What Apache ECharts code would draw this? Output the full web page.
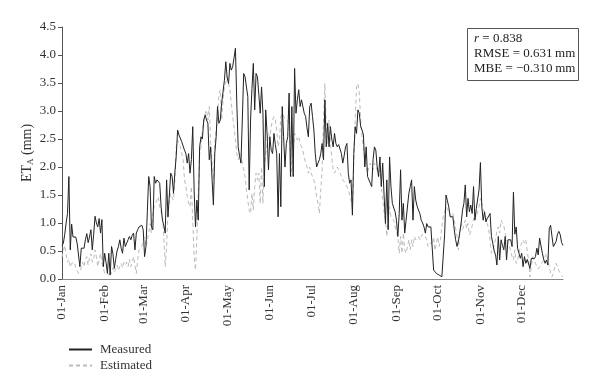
<!DOCTYPE html>
<html><head><meta charset="utf-8">
<script src="https://cdn.jsdelivr.net/npm/echarts@6/dist/echarts.min.js"></script>
<style>html,body{margin:0;padding:0;background:#fff}#c{width:600px;height:390px}</style>
</head><body><div id="c"></div>
<script>
const months = ["Jan","Feb","Mar","Apr","May","Jun","Jul","Aug","Sep","Oct","Nov","Dec"];
const monthDays = [31,28,31,30,31,30,31,31,30,31,30,31];
const measured = [
0.60,0.64,0.80,1.00,1.17,1.83,0.52,0.98,0.75,0.72,
0.75,0.64,0.62,0.22,0.55,0.56,0.55,0.70,0.81,0.65,
0.75,0.88,0.52,0.80,1.12,1.00,0.93,1.08,0.82,1.06,
0.22,0.46,0.30,0.10,0.46,0.07,0.58,0.45,0.19,0.35,
0.50,0.58,0.70,0.55,0.46,0.73,0.58,0.64,0.70,0.76,
0.70,0.78,0.82,0.52,0.82,0.88,0.93,0.90,0.96,0.88,
0.40,0.58,1.20,1.83,1.65,0.93,0.88,1.83,1.71,1.77,
1.77,1.71,1.29,1.05,0.95,0.82,1.77,1.11,1.50,1.89,
1.83,1.53,1.90,2.20,2.66,2.57,2.60,2.45,2.42,2.30,
2.24,2.07,2.24,1.89,2.13,2.72,1.59,0.93,1.41,1.05,
2.36,2.54,2.50,2.84,2.93,2.84,2.78,2.13,2.36,1.80,
1.32,2.24,2.54,3.08,2.78,2.84,3.14,3.14,3.55,3.88,
3.60,3.49,3.85,3.73,3.79,3.95,4.12,3.14,2.36,2.20,
2.07,2.84,3.67,3.61,3.43,3.26,1.59,2.84,3.40,3.85,
3.02,3.67,3.61,3.30,2.96,3.43,2.96,1.65,3.02,2.60,
1.95,2.54,2.30,2.24,2.60,2.40,2.24,1.11,2.24,1.29,
3.08,2.54,2.00,2.42,2.54,3.32,1.83,3.08,1.83,3.76,
2.96,3.20,3.38,3.08,3.20,3.23,2.96,2.90,2.70,2.54,
3.08,3.14,2.90,2.66,2.24,2.00,2.07,2.13,2.24,2.42,
2.13,3.20,2.36,2.78,2.36,2.72,2.50,2.36,2.60,2.42,
2.36,2.40,2.42,2.24,2.07,2.20,2.36,2.42,1.89,1.71,
1.77,1.14,2.24,2.72,2.60,3.02,2.96,2.72,2.66,2.57,
2.00,2.36,1.83,1.80,1.71,1.65,2.13,2.36,2.30,2.00,
1.83,2.18,1.65,2.07,1.50,0.99,1.77,0.88,2.18,1.65,
1.35,1.35,1.20,1.05,0.76,1.17,1.95,1.05,1.35,0.82,
1.05,1.05,1.53,1.65,1.77,1.05,1.65,1.41,1.30,1.23,
1.17,1.05,1.00,0.93,0.82,0.99,0.93,0.96,0.93,0.96,
0.16,0.13,0.10,0.08,0.07,0.05,0.04,0.04,0.80,1.50,
1.40,1.29,1.11,1.14,1.11,0.88,0.70,0.58,0.67,0.70,
1.00,1.23,1.35,1.68,1.11,1.44,1.20,1.32,1.17,1.65,
1.05,1.26,1.23,1.59,2.08,1.29,1.05,1.20,1.02,1.08,
1.08,1.17,0.76,0.64,0.50,0.43,0.25,0.76,0.34,0.70,
0.60,0.52,0.76,0.34,0.70,0.70,0.70,0.58,1.55,0.80,
0.93,0.55,0.46,0.37,0.46,0.22,0.40,0.28,0.35,0.37,
0.19,0.37,0.34,0.36,0.40,0.55,0.43,0.73,0.70,0.46,
0.35,0.28,0.34,0.25,0.90,0.96,0.76,0.58,0.58,0.67,
0.80,0.85,0.79,0.65,0.60];
const estimated = [
0.39,0.50,0.60,0.45,0.30,0.35,0.21,0.28,0.25,0.30,
0.20,0.15,0.10,0.07,0.20,0.30,0.22,0.35,0.40,0.25,
0.38,0.45,0.30,0.35,0.52,0.40,0.22,0.35,0.46,0.30,
0.20,0.10,0.07,0.12,0.08,0.15,0.10,0.20,0.12,0.18,
0.25,0.15,0.22,0.28,0.20,0.30,0.25,0.30,0.22,0.35,
0.22,0.30,0.40,0.25,0.10,0.35,0.52,0.55,0.58,0.70,
0.75,0.58,0.70,0.82,0.99,0.82,1.17,1.29,1.35,1.41,
1.47,1.29,1.20,1.11,0.75,0.22,0.58,1.17,1.41,1.53,
1.45,1.41,1.77,2.36,2.48,2.40,2.36,2.24,2.13,1.77,
1.65,1.47,1.35,1.29,1.65,1.05,0.40,0.16,0.75,1.53,
2.24,2.36,2.66,2.80,2.96,3.02,2.84,3.08,2.42,2.10,
1.77,2.42,2.66,2.84,3.32,3.38,2.84,3.20,3.43,3.50,
3.61,3.49,3.38,3.14,2.90,2.72,2.48,2.24,2.13,2.20,
2.24,2.07,1.95,1.83,1.60,1.41,1.23,1.17,1.53,1.23,
1.65,1.89,1.77,1.89,1.35,2.00,1.35,2.00,2.24,2.40,
2.60,2.54,2.72,2.84,2.90,2.84,2.66,2.36,2.48,2.90,
2.96,2.90,2.93,2.84,2.84,2.78,2.24,1.83,2.24,2.60,
2.57,2.48,2.54,2.42,2.36,2.30,2.18,2.07,2.00,1.89,
2.00,1.89,1.83,1.77,1.65,1.47,1.35,1.17,1.60,1.95,
2.84,3.49,2.66,2.42,2.84,2.42,2.18,1.95,1.89,1.95,
2.00,1.95,1.90,1.83,1.77,1.74,1.71,1.65,1.59,1.50,
1.41,1.29,2.13,2.84,3.43,3.49,3.32,2.84,2.54,2.36,
2.13,2.00,1.89,2.00,2.07,2.00,1.95,2.07,2.00,1.95,
1.83,1.95,1.65,1.41,1.20,1.05,0.76,1.05,1.29,1.11,
1.08,1.05,0.93,0.85,0.76,0.46,0.76,0.46,0.82,0.52,
0.46,0.46,0.70,0.52,0.70,0.58,0.76,0.70,0.73,0.76,
0.70,0.76,0.80,0.82,0.76,0.70,0.58,0.58,0.65,0.60,
0.75,0.51,0.65,0.75,0.58,0.70,0.93,1.11,1.20,1.29,
1.25,1.20,1.17,1.11,1.17,1.05,0.90,0.76,0.52,0.82,
0.99,0.88,0.95,1.05,0.90,0.99,0.79,0.85,0.88,1.05,
1.17,1.11,1.20,1.29,1.44,1.35,1.26,1.29,1.10,0.99,
0.88,0.70,0.46,0.52,0.60,0.70,0.88,0.93,0.82,1.05,
1.05,0.95,0.82,0.70,0.64,0.58,0.50,0.40,0.34,0.52,
0.28,0.34,0.45,0.58,0.64,0.70,0.64,0.70,0.50,0.34,
0.04,0.22,0.40,0.35,0.28,0.22,0.18,0.16,0.25,0.30,
0.34,0.40,0.46,0.34,0.22,0.10,0.04,0.10,0.22,0.28,
0.22,0.15,0.10,0.06,0.04];
const stats = {r:"0.838", rmse:"0.631", mbe:"\u22120.310"};

const days = [];
months.forEach((m,i)=>{for(let d=1; d<=monthDays[i]; d++){days.push((d<10?"0":"")+d+"-"+m);}});

const serif = "'Liberation Serif','DejaVu Serif',serif";
const chart = echarts.init(document.getElementById('c'), null, {renderer:'canvas'});
chart.setOption({
  animation:false,
  backgroundColor:'#fff',
  grid:{left:62, right:37, top:27, bottom:111, containLabel:false},
  xAxis:{
    type:'category', data:days, boundaryGap:false,
    axisLine:{lineStyle:{color:'#888', width:1}},
    axisTick:{show:false},
    axisLabel:{rotate:90, interval:(i,n)=>n.startsWith('01-'), fontFamily:serif, fontSize:13, color:'#333', margin:6},
    splitLine:{show:false}
  },
  yAxis:{
    type:'value', min:0, max:4.5, interval:0.5,
    name:'ET{s|A} (mm)', nameLocation:'middle', nameGap:27, nameRotate:90, nameMoveOverlap:false,
    nameTextStyle:{fontFamily:serif, fontSize:14, color:'#333', rich:{s:{fontFamily:serif, fontSize:9, color:'#333', verticalAlign:'bottom', padding:[6,0,0,0]}}},
    axisLine:{show:true, lineStyle:{color:'#555', width:1}},
    axisTick:{show:true, inside:false, length:4, lineStyle:{color:'#555'}},
    axisLabel:{fontFamily:serif, fontSize:13, color:'#333', margin:6, formatter:v=>v.toFixed(1)},
    splitLine:{show:false}
  },
  legend:{
    orient:'vertical', left:63, top:338, itemWidth:23, itemHeight:10, itemGap:3,
    itemStyle:{color:'transparent', borderColor:'transparent', borderWidth:0, opacity:0},
    textStyle:{fontFamily:serif, fontSize:13, color:'#333', padding:[0,0,0,3]},
    data:['Measured','Estimated']
  },
  graphic:[
    {type:'rect', shape:{x:467.5, y:28.5, width:111, height:52}, style:{fill:'#fff', stroke:'#555', lineWidth:1}},
    {type:'text', left:474, top:31, style:{
      text:'{i|r} = '+stats.r+'\nRMSE = '+stats.rmse+'\u2009mm\nMBE = '+stats.mbe+'\u2009mm',
      font:'13px '+serif, fill:'#222', lineHeight:15,
      rich:{i:{fontStyle:'italic', fontFamily:serif, fontSize:13, fill:'#222'}}
    }}
  ],
  series:[
    {name:'Measured', type:'line', data:measured, symbol:'none', showSymbol:false,
     lineStyle:{color:'#222', width:1}, itemStyle:{color:'#222'}},
    {name:'Estimated', type:'line', data:estimated, symbol:'none', showSymbol:false,
     lineStyle:{color:'#bbb', width:1, type:[4,3]}, itemStyle:{color:'#bbb'}, z:1}
  ]
});
</script></body></html>
